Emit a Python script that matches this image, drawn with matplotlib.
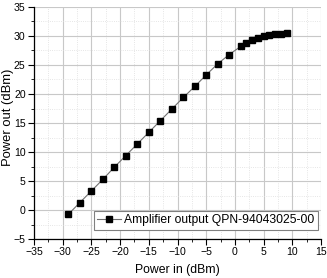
import matplotlib
matplotlib.use("Agg")
import matplotlib.pyplot as plt
from matplotlib.ticker import MultipleLocator

plt.rcParams['font.family'] = ['Liberation Sans', 'DejaVu Sans']

power_in = [-29, -27, -25, -23, -21, -19, -17, -15, -13, -11, -9, -7, -5, -3, -1,
            1, 2, 3, 4, 5, 6, 7, 8, 9]
power_out = [-0.7, 1.3, 3.3, 5.3, 7.4, 9.4, 11.4, 13.4, 15.4, 17.4, 19.4, 21.3, 23.3, 25.2, 26.8,
             28.2, 28.8, 29.3, 29.7, 30.0, 30.2, 30.3, 30.4, 30.5]
series_label = "Amplifier output QPN-94043025-00"

fig = plt.figure(figsize=(3.27, 2.78), dpi=100)
ax = fig.add_axes([0.104, 0.140, 0.878, 0.835])

ax.plot(power_in, power_out, color='#707070', lw=0.8, marker='s', ms=3.8,
        mfc='black', mec='black', label=series_label, zorder=3)

ax.set_xlim(-35, 15)
ax.set_ylim(-5, 35)
ax.xaxis.set_major_locator(MultipleLocator(5))
ax.yaxis.set_major_locator(MultipleLocator(5))
ax.xaxis.set_minor_locator(MultipleLocator(2.5))
ax.yaxis.set_minor_locator(MultipleLocator(2.5))

ax.grid(which='major', color='#c8c8c8', lw=0.8, ls='-')
ax.grid(which='minor', color='#dddddd', lw=0.6, ls=':')
ax.set_axisbelow(True)

for s in ['top', 'right']:
    ax.spines[s].set_visible(False)
for s in ['left', 'bottom']:
    ax.spines[s].set_color('black')
    ax.spines[s].set_linewidth(0.9)

ax.tick_params(which='major', direction='out', length=4, width=0.8, labelsize=7.6, pad=2)
ax.tick_params(which='minor', direction='out', length=2, width=0.6)

ax.set_xlabel("Power in (dBm)", fontsize=8.8, labelpad=5)
ax.set_ylabel("Power out (dBm)", fontsize=9.4)
ax.yaxis.set_label_coords(-0.071, 0.524)

leg = ax.legend(loc='lower right', bbox_to_anchor=(0.99, 0.04), fontsize=8.7,
                fancybox=False, framealpha=1, edgecolor='#808080',
                handlelength=2.0, borderpad=0.3, handletextpad=0.25, borderaxespad=0)
leg.get_frame().set_linewidth(0.8)

fig.savefig("out.png", dpi=100)
